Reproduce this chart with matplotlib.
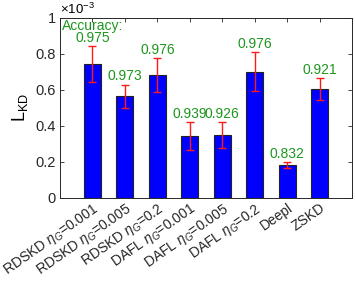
import matplotlib
matplotlib.use("Agg")
import matplotlib.pyplot as plt
import numpy as np

plt.rcParams['font.family'] = ['Liberation Sans', 'DejaVu Sans']
plt.rcParams['mathtext.fontset'] = 'custom'
plt.rcParams['mathtext.rm'] = 'Liberation Sans'
plt.rcParams['mathtext.it'] = 'Liberation Sans:italic'

categories = ["RDSKD $\\eta_G$=0.001", "RDSKD $\\eta_G$=0.005", "RDSKD $\\eta_G$=0.2",
              "DAFL $\\eta_G$=0.001", "DAFL $\\eta_G$=0.005", "DAFL $\\eta_G$=0.2",
              "Deepl", "ZSKD"]
lkd = [0.745, 0.565, 0.682, 0.344, 0.350, 0.702, 0.183, 0.604]  # x1e-3
err = [0.100, 0.065, 0.095, 0.080, 0.070, 0.107, 0.015, 0.061]
acc = ["Accuracy:\n0.975", "0.973", "0.976", "0.939", "0.926", "0.976", "0.832", "0.921"]
yticks = [0, 0.2, 0.4, 0.6, 0.8, 1]

fig = plt.figure(figsize=(3.55, 2.84), dpi=100)
ax = fig.add_axes([0.169, 0.303, 0.823, 0.634])
x = np.arange(1, len(categories) + 1)
ax.bar(x, lkd, width=0.52, color='#0000ff', edgecolor='#222222', linewidth=0.8, zorder=2)
ax.errorbar(x, lkd, yerr=err, fmt='none', ecolor='#ff1a1a', elinewidth=1, capsize=3,
            capthick=1, zorder=3)
for xi, v, e, a in zip(x, lkd, err, acc):
    ax.text(xi, v + e + 0.006, a, ha='center', va='bottom', color='#1e961e',
            fontsize=10, linespacing=0.75)
ax.set_xlim(0, 9)
ax.set_ylim(0, 1)
ax.set_yticks(yticks)
ax.set_yticklabels(['0', '0.2', '0.4', '0.6', '0.8', '1'], fontsize=10.5)
ax.set_xticks(x)
ax.set_xticklabels(categories, rotation=35, ha='right', rotation_mode='anchor', fontsize=10)
ax.tick_params(direction='in', length=3, width=0.6, top=True, right=True, pad=3, colors='#262626')
ax.tick_params(axis='x', pad=2)
for s in ax.spines.values():
    s.set_linewidth(0.7)
    s.set_color('#262626')
ax.set_ylabel('L$_{\\mathrm{KD}}$', fontsize=13, labelpad=4)
ax.text(0.0, 1.005, '$\\times$10$^{-3}$', transform=ax.transAxes, ha='left', va='bottom', fontsize=9.5)
fig.savefig('out.png', dpi=100)
